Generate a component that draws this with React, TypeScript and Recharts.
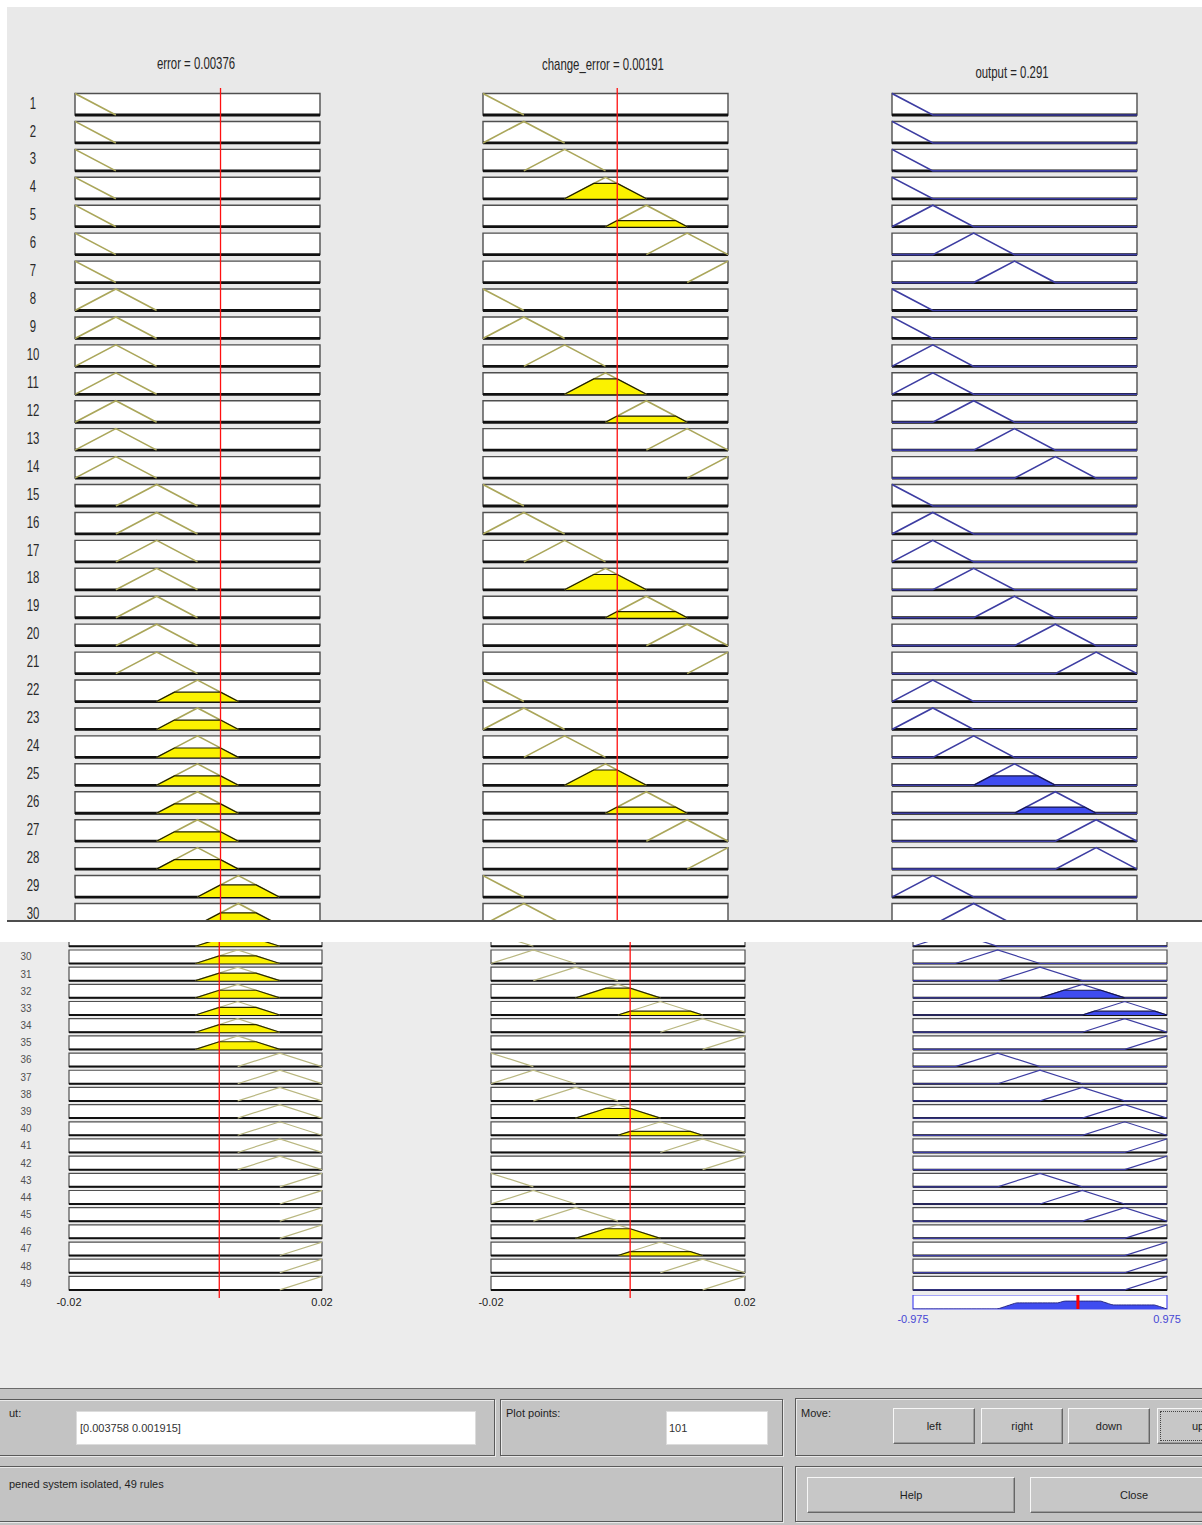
import React from "react";
import {
  ComposedChart,
  Line,
  Area,
  XAxis,
  YAxis,
  ReferenceArea,
  ReferenceLine,
} from "recharts";

// ---- values read from the rule viewer ----
const errorRange: [number, number] = [-0.02, 0.02];
const changeRange: [number, number] = [-0.02, 0.02];
const outputRange: [number, number] = [-0.975, 0.975];

const inputVector = [0.003758, 0.001915];
const outputValue = 0.291;
const plotPoints = 101;

const errorTitle = "error = 0.00376";
const changeTitle = "change_error = 0.00191";
const outputTitle = "output = 0.291";
const inputText = "[0.003758 0.001915]";
const statusText = "pened system isolated, 49 rules";

// triangular membership functions [a, b, c]
const errorMFs = [
  [-0.02667, -0.02, -0.01333],
  [-0.02, -0.01333, -0.00667],
  [-0.01333, -0.00667, 0],
  [-0.00667, 0, 0.00667],
  [0, 0.00667, 0.01333],
  [0.00667, 0.01333, 0.02],
  [0.01333, 0.02, 0.02667],
];
const changeMFs = [
  [-0.02667, -0.02, -0.01333],
  [-0.02, -0.01333, -0.00667],
  [-0.01333, -0.00667, 0],
  [-0.00667, 0, 0.00667],
  [0, 0.00667, 0.01333],
  [0.00667, 0.01333, 0.02],
  [0.01333, 0.02, 0.02667],
];
const outputMFs = [
  [-1.3, -0.975, -0.65],
  [-0.975, -0.65, -0.325],
  [-0.65, -0.325, 0],
  [-0.325, 0, 0.325],
  [0, 0.325, 0.65],
  [0.325, 0.65, 0.975],
  [0.65, 0.975, 1.3],
];

// output MF of each rule: row = error MF, column = change_error MF
const ruleTable = [
  [1, 1, 1, 1, 2, 3, 4],
  [1, 1, 2, 2, 3, 4, 5],
  [1, 2, 2, 3, 4, 5, 6],
  [2, 2, 3, 4, 5, 6, 6],
  [2, 3, 4, 5, 6, 6, 7],
  [3, 4, 5, 6, 6, 7, 7],
  [4, 5, 6, 7, 7, 7, 7],
];

function trimf(x: number, [a, b, c]: number[]) {
  if (x <= a || x >= c) return x === b ? 1 : 0;
  return x <= b ? (x - a) / (b - a) : (c - x) / (c - b);
}

const errorDeg = errorMFs.map((p) => trimf(inputVector[0], p));
const changeDeg = changeMFs.map((p) => trimf(inputVector[1], p));

type Rule = { n: number; e: number; de: number; out: number; w: number };
const rules: Rule[] = ruleTable.flatMap((row, i) =>
  row.map((out, j) => ({
    n: i * 7 + j + 1,
    e: i,
    de: j,
    out: out - 1,
    w: Math.min(errorDeg[i], changeDeg[j]),
  }))
);

const aggregate = Array.from({ length: plotPoints }, (_, i) => {
  const x = outputRange[0] + ((outputRange[1] - outputRange[0]) * i) / (plotPoints - 1);
  const y = Math.max(0, ...rules.map((r) => Math.min(r.w, trimf(x, outputMFs[r.out]))));
  return { x, y };
});

// ---- layout ----
const FONT = '"Liberation Sans", Arial, Helvetica, sans-serif';

type Part = {
  firstRow: number;
  firstBottom: number;
  pitch: number;
  boxH: number;
  plotTop: number;
  plotBottom: number;
  thin: boolean;
};
const TOP_PART: Part = { firstRow: 1, firstBottom: 115, pitch: 27.93, boxH: 21.5, plotTop: 88, plotBottom: 926, thin: false };
const BOTTOM_PART: Part = { firstRow: 29, firstBottom: 946.3, pitch: 17.18, boxH: 13.5, plotTop: 930, plotBottom: 1298, thin: true };

const TOP_WRAP = { left: 7, top: 7, width: 1195, height: 915 };
const BOTTOM_WRAP = { left: 0, top: 942, width: 1202, height: 446 };

type Look = { line: string; fill: string; edge: string; zero: boolean };
const inputLook: Look = { line: "#aaa65a", fill: "#fbf200", edge: "#1c1c00", zero: false };
const inputLookThin: Look = { line: "#b9b780", fill: "#fbf200", edge: "#2a2a00", zero: false };
const outputLook: Look = { line: "#3d3da2", fill: "#3f4cf0", edge: "#15154e", zero: true };

type ColumnProps = {
  part: Part;
  rows: Rule[];
  labelRows?: Rule[];
  range: [number, number];
  mfOf: (r: Rule) => number[];
  levelOf: (r: Rule) => number;
  plotLeft: number;
  plotRight: number;
  look: Look;
  marker?: number;
  labels?: { offset: number; fontSize: number; scale: number; color: string; dy: number };
  axis?: boolean;
  wrap: { left: number; top: number };
};

function RuleColumn({ part, rows, labelRows, range, mfOf, levelOf, plotLeft, plotRight, look, marker, labels, axis, wrap }: ColumnProps) {
  const hV = part.boxH / part.pitch;
  const toV = (px: number) => part.firstRow + (px - part.firstBottom) / part.pitch;
  const domain = [toV(part.plotTop), toV(part.plotBottom)];
  const side = 20;
  const yW = labels ? 50 : 0;
  const axisH = axis ? 22 : 0;
  const plotW = plotRight - plotLeft;
  const plotH = part.plotBottom - part.plotTop;
  const [lo, hi] = range;
  const mfW = part.thin ? 1.2 : 1.6;
  const shape = (row: number, pts: number[][]) => pts.map(([x, m]) => ({ x, y: row - m * hV }));
  const tickRows = labelRows ?? rows;

  return (
    <div style={{ position: "absolute", left: plotLeft - side - yW - wrap.left, top: part.plotTop - wrap.top }}>
      <ComposedChart width={side + yW + plotW + side} height={plotH + axisH} margin={{ top: 0, right: side, bottom: 0, left: side }}>
        <XAxis
          type="number"
          dataKey="x"
          domain={range}
          allowDataOverflow
          hide={!axis}
          height={axisH}
          ticks={range}
          interval={0}
          tickSize={0}
          tickMargin={0}
          axisLine={false}
          tickLine={false}
          tick={{ fontSize: 11, fill: "#222", fontFamily: FONT }}
        />
        <YAxis
          type="number"
          domain={domain}
          reversed
          allowDataOverflow
          hide={!labels}
          width={yW}
          ticks={tickRows.map((r) => r.n - hV / 2)}
          interval={0}
          tickSize={0}
          tickMargin={0}
          axisLine={false}
          tickLine={false}
          tick={(p: any) =>
            labels ? (
              <text
                key={p.index}
                transform={`translate(${p.x - labels.offset},${p.y + labels.dy}) scale(${labels.scale},1)`}
                textAnchor="middle"
                dominantBaseline="central"
                fontSize={labels.fontSize}
                fill={labels.color}
                fontFamily={FONT}
              >
                {Math.round(p.payload.value + hV / 2)}
              </text>
            ) : (
              <g />
            )
          }
        />
        {rows.map((r) => (
          <ReferenceArea
            key={`box${r.n}`}
            x1={lo}
            x2={hi}
            y1={r.n - hV}
            y2={r.n}
            fill="#ffffff"
            fillOpacity={1}
            stroke="#4f4f4f"
            strokeWidth={part.thin ? 1.2 : 1.4}
            zIndex={10}
          />
        ))}
        {rows.map((r) => (
          <ReferenceLine key={`base${r.n}`} y={r.n} stroke="#111111" strokeWidth={part.thin ? 2 : 2.8} zIndex={20} />
        ))}
        {rows.map((r) => {
          const [a, b, c] = mfOf(r);
          const pts = [[a, 0], [b, 1], [c, 0]];
          if (look.zero && a > lo) pts.unshift([lo, 0]);
          if (look.zero && c < hi) pts.push([hi, 0]);
          return (
            <Line
              key={`mf${r.n}`}
              data={shape(r.n, pts)}
              dataKey="y"
              type="linear"
              stroke={look.line}
              strokeWidth={mfW}
              dot={false}
              activeDot={false}
              legendType="none"
              isAnimationActive={false}
              zIndex={30}
            />
          );
        })}
        {rows
          .filter((r) => levelOf(r) > 0)
          .map((r) => {
            const [a, b, c] = mfOf(r);
            const d = levelOf(r);
            const pts = [[a, 0], [a + d * (b - a), d], [c - d * (c - b), d], [c, 0]];
            return (
              <Area
                key={`fill${r.n}`}
                data={shape(r.n, pts)}
                dataKey="y"
                type="linear"
                baseValue={r.n}
                fill={look.fill}
                fillOpacity={1}
                stroke={look.edge}
                strokeWidth={1.2}
                dot={false}
                activeDot={false}
                legendType="none"
                isAnimationActive={false}
                zIndex={40}
              />
            );
          })}
        {marker !== undefined && <ReferenceLine x={marker} stroke="#ff1010" strokeWidth={1.3} zIndex={60} />}
      </ComposedChart>
    </div>
  );
}

function Title({ text, cx, top }: { text: string; cx: number; top: number }) {
  return (
    <div
      style={{
        position: "absolute",
        left: cx,
        top,
        fontSize: 17,
        lineHeight: "17px",
        whiteSpace: "nowrap",
        color: "#262626",
        fontFamily: FONT,
        transform: "translateX(-50%) scaleX(0.67)",
      }}
    >
      {text}
    </div>
  );
}

const frame: React.CSSProperties = {
  position: "absolute",
  boxSizing: "border-box",
  border: "1px solid #5a5a5a",
  boxShadow: "inset 1px 1px 0 #e9e9e9, 1px 1px 0 #e9e9e9",
};
const uiText: React.CSSProperties = {
  position: "absolute",
  fontSize: 11,
  lineHeight: "13px",
  color: "#1e1e1e",
  fontFamily: FONT,
  whiteSpace: "nowrap",
};

function Button({ label, x1, x2, y1, y2, focus }: { label: string; x1: number; x2: number; y1: number; y2: number; focus?: boolean }) {
  return (
    <div
      style={{
        position: "absolute",
        left: x1,
        top: y1,
        width: x2 - x1,
        height: y2 - y1,
        boxSizing: "border-box",
        background: "#c7c7c7",
        borderTop: "1px solid #f7f7f7",
        borderLeft: "1px solid #f7f7f7",
        borderRight: "1px solid #666",
        borderBottom: "1px solid #666",
        boxShadow: "inset -1px -1px 0 #9c9c9c",
        display: "flex",
        alignItems: "center",
        justifyContent: "center",
        fontSize: 11,
        color: "#1e1e1e",
        fontFamily: FONT,
        outline: focus ? "1px dotted #444" : undefined,
        outlineOffset: focus ? -4 : undefined,
      }}
    >
      {label}
    </div>
  );
}

export default function App() {
  const topRows = rules.filter((r) => r.n <= 30);
  const bottomRows = rules.filter((r) => r.n >= 29);
  const bottomLabelRows = rules.filter((r) => r.n >= 30);
  const errOf = (r: Rule) => errorMFs[r.e];
  const chgOf = (r: Rule) => changeMFs[r.de];
  const outOf = (r: Rule) => outputMFs[r.out];
  const errLevel = (r: Rule) => errorDeg[r.e];
  const chgLevel = (r: Rule) => changeDeg[r.de];
  const outLevel = (r: Rule) => r.w;
  const P = 1388;

  return (
    <div style={{ position: "absolute", left: 0, top: 0, width: 1202, height: 1525, background: "#ffffff", overflow: "hidden", fontFamily: FONT }}>
      {/* upper screenshot: rules 1-30 */}
      <div style={{ position: "absolute", ...TOP_WRAP, overflow: "hidden", background: "#e9e9e9" }}>
        <Title text={errorTitle} cx={196 - TOP_WRAP.left} top={55 - TOP_WRAP.top} />
        <Title text={changeTitle} cx={603 - TOP_WRAP.left} top={56 - TOP_WRAP.top} />
        <Title text={outputTitle} cx={1012 - TOP_WRAP.left} top={64 - TOP_WRAP.top} />
        <RuleColumn
          part={TOP_PART}
          rows={topRows}
          range={errorRange}
          mfOf={errOf}
          levelOf={errLevel}
          plotLeft={75}
          plotRight={320}
          look={inputLook}
          marker={inputVector[0]}
          labels={{ offset: 42, fontSize: 17, scale: 0.67, color: "#2a2a2a", dy: -1.5 }}
          wrap={TOP_WRAP}
        />
        <RuleColumn
          part={TOP_PART}
          rows={topRows}
          range={changeRange}
          mfOf={chgOf}
          levelOf={chgLevel}
          plotLeft={483}
          plotRight={728}
          look={inputLook}
          marker={inputVector[1]}
          wrap={TOP_WRAP}
        />
        <RuleColumn
          part={TOP_PART}
          rows={topRows}
          range={outputRange}
          mfOf={outOf}
          levelOf={outLevel}
          plotLeft={892}
          plotRight={1137}
          look={outputLook}
          wrap={TOP_WRAP}
        />
      </div>
      <div style={{ position: "absolute", left: 7, top: 920, width: 1195, height: 2, background: "#4e4e4e" }} />

      {/* lower screenshot: rules 29-49 and the aggregate */}
      <div style={{ position: "absolute", ...BOTTOM_WRAP, overflow: "hidden", background: "#ececec" }}>
        <RuleColumn
          part={BOTTOM_PART}
          rows={bottomRows}
          labelRows={bottomLabelRows}
          range={errorRange}
          mfOf={errOf}
          levelOf={errLevel}
          plotLeft={69}
          plotRight={322}
          look={inputLookThin}
          marker={inputVector[0]}
          labels={{ offset: 43, fontSize: 11, scale: 0.9, color: "#505050", dy: 0 }}
          axis
          wrap={BOTTOM_WRAP}
        />
        <RuleColumn
          part={BOTTOM_PART}
          rows={bottomRows}
          range={changeRange}
          mfOf={chgOf}
          levelOf={chgLevel}
          plotLeft={491}
          plotRight={745}
          look={inputLookThin}
          marker={inputVector[1]}
          axis
          wrap={BOTTOM_WRAP}
        />
        <RuleColumn
          part={BOTTOM_PART}
          rows={bottomRows}
          range={outputRange}
          mfOf={outOf}
          levelOf={outLevel}
          plotLeft={913}
          plotRight={1167}
          look={outputLook}
          wrap={BOTTOM_WRAP}
        />
        <div style={{ position: "absolute", left: 913 - 20 - BOTTOM_WRAP.left, top: 1295 - BOTTOM_WRAP.top }}>
          <ComposedChart width={20 + 254 + 20} height={14 + 26} margin={{ top: 0, right: 20, bottom: 0, left: 20 }}>
            <XAxis
              type="number"
              dataKey="x"
              domain={outputRange}
              allowDataOverflow
              height={26}
              ticks={outputRange}
              interval={0}
              tickSize={0}
              tickMargin={6}
              axisLine={false}
              tickLine={false}
              tick={{ fontSize: 11, fill: "#4646d4", fontFamily: FONT }}
            />
            <YAxis type="number" domain={[0, 1]} hide allowDataOverflow />
            <ReferenceArea x1={outputRange[0]} x2={outputRange[1]} y1={0} y2={1} fill="#ffffff" fillOpacity={1} stroke="#4a4af2" strokeWidth={1.2} zIndex={10} />
            <Area
              data={aggregate}
              dataKey="y"
              type="linear"
              baseValue={0}
              fill="#3f4cf0"
              fillOpacity={1}
              stroke="#2a2a86"
              strokeWidth={1}
              dot={false}
              activeDot={false}
              legendType="none"
              isAnimationActive={false}
              zIndex={40}
            />
            <ReferenceLine x={outputValue} stroke="#ff0000" strokeWidth={3} zIndex={60} />
          </ComposedChart>
        </div>
      </div>

      {/* control panel */}
      <div style={{ position: "absolute", left: 0, top: P, width: 1202, height: 1525 - P, background: "#c3c3c3", borderTop: "1px solid #6b6b6b", boxSizing: "border-box" }}>
        <div style={{ ...frame, left: -6, top: 1398 - P, width: 501, height: 57 }} />
        <div style={{ ...uiText, left: 9, top: 1406 - P }}>ut:</div>
        <div style={{ position: "absolute", left: 76, top: 1410 - P, width: 400, height: 34, background: "#fff", border: "1px solid #dcdcdc", boxSizing: "border-box" }} />
        <div style={{ ...uiText, left: 80, top: 1421 - P, color: "#333" }}>{inputText}</div>

        <div style={{ ...frame, left: 500, top: 1398 - P, width: 283, height: 57 }} />
        <div style={{ ...uiText, left: 506, top: 1406 - P }}>Plot points:</div>
        <div style={{ position: "absolute", left: 666, top: 1410 - P, width: 102, height: 34, background: "#fff", border: "1px solid #dcdcdc", boxSizing: "border-box" }} />
        <div style={{ ...uiText, left: 669, top: 1421 - P, color: "#333" }}>{String(plotPoints)}</div>

        <div style={{ ...frame, left: 795, top: 1397 - P, width: 420, height: 58 }} />
        <div style={{ ...uiText, left: 801, top: 1406 - P }}>Move:</div>
        <Button label="left" x1={893} x2={975} y1={1407 - P} y2={1443 - P} />
        <Button label="right" x1={981} x2={1063} y1={1407 - P} y2={1443 - P} />
        <Button label="down" x1={1068} x2={1150} y1={1407 - P} y2={1443 - P} />
        <Button label="up" x1={1157} x2={1239} y1={1407 - P} y2={1443 - P} focus />

        <div style={{ ...frame, left: -6, top: 1465 - P, width: 789, height: 56 }} />
        <div style={{ ...uiText, left: 9, top: 1477 - P }}>{statusText}</div>

        <div style={{ ...frame, left: 795, top: 1465 - P, width: 420, height: 56 }} />
        <Button label="Help" x1={807} x2={1015} y1={1476 - P} y2={1512 - P} />
        <Button label="Close" x1={1030} x2={1238} y1={1476 - P} y2={1512 - P} />
      </div>
    </div>
  );
}
